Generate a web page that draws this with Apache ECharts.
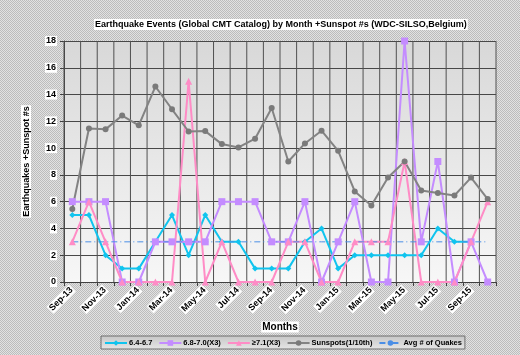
<!DOCTYPE html>
<html><head><meta charset="utf-8">
<script src="https://cdn.jsdelivr.net/npm/echarts@6/dist/echarts.min.js"></script>
<style>html,body{margin:0;padding:0;background:#d2d2d2;} #c{width:520px;height:355px;}</style>
</head><body><div id="c"></div>
<script>
const months = ['Sep-13','Oct-13','Nov-13','Dec-13','Jan-14','Feb-14','Mar-14','Apr-14','May-14','Jun-14','Jul-14','Aug-14','Sep-14','Oct-14','Nov-14','Dec-14','Jan-15','Feb-15','Mar-15','Apr-15','May-15','Jun-15','Jul-15','Aug-15','Sep-15','Oct-15'];
const mag64_67 = [5,5,2,1,1,3,5,2,5,3,3,1,1,1,3,4,1,2,2,2,2,2,4,3,3,null];
const mag68_70x3 = [6,6,6,0,0,3,3,3,3,6,6,6,3,3,6,0,3,6,0,0,18,3,9,0,3,0];
const mag71x3 = [3,6,3,0,0,0,0,15,0,3,0,0,0,3,3,0,0,3,3,3,9,0,0,0,3,6];
const sunspots = [5.45,11.46,11.4,12.43,11.7,14.6,12.9,11.24,11.27,10.3,10.05,10.7,13.0,9.0,10.35,11.3,9.8,6.76,5.72,7.8,9.0,6.84,6.64,6.46,7.8,6.19];
const avgQuakes = [3,3,3,3,3,3,3,3,3,3,3,3,3,3,3,3,3,3,3,3,3,3,3,3,3,3];
const yTicks = [0,2,4,6,8,10,12,14,16,18];

const pc = document.createElement('canvas'); pc.width=2; pc.height=2;
const px = pc.getContext('2d');
px.fillStyle='#e2e2e2'; px.fillRect(0,0,2,2);
px.fillStyle='#bcbcbc'; px.fillRect(0,0,1,1); px.fillRect(1,1,1,1);

const chart = echarts.init(document.getElementById('c'), null, {renderer:'canvas'});
const F = 'Liberation Sans, Arial, sans-serif';
const lbl = {fontFamily:F, fontWeight:'bold', fontSize:9, color:'#000', backgroundColor:'#fff', padding:[1,1,0,1]};
const yMin = yTicks[0], yMax = yTicks[yTicks.length-1];

// vertical gridlines at category boundaries, placed through the axis scales
function gridRenderItem(params, api){
  const i = api.value(0);
  const w = api.size([1,0])[0];
  const b = api.coord([i, yMin]);
  const t = api.coord([i, yMax]);
  const st = {stroke:'#505050', lineWidth:1};
  const children = [{type:'line', shape:{x1:b[0]-w/2, y1:b[1], x2:t[0]-w/2, y2:t[1]}, style:st}];
  if (i === months.length-1) children.push({type:'line', shape:{x1:b[0]+w/2, y1:b[1], x2:t[0]+w/2, y2:t[1]}, style:st});
  return {type:'group', children};
}

chart.setOption({
  backgroundColor: {image: pc, repeat:'repeat'},
  animation:false,
  title:{text:'Earthquake Events (Global CMT Catalog) by Month +Sunspot #s (WDC-SILSO,Belgium)', left:94, top:19,
    backgroundColor:'#fff', padding:[1,1,1,1],
    textStyle:{fontFamily:F, fontWeight:'bold', fontSize:9, color:'#000'}},
  grid:{left:64, right:24, top:41, bottom:73, show:true, borderWidth:0,
    backgroundColor: new echarts.graphic.LinearGradient(0,0,0,1,[{offset:0,color:'#d8d8d8'},{offset:1,color:'#f7f7f7'}]),
    outerBoundsMode:'none'},
  legend:{left:101, top:336, padding:[3,3,2,3], itemGap:6, itemWidth:22, itemHeight:7,
    backgroundColor: new echarts.graphic.LinearGradient(0,0,0,1,[{offset:0,color:'#c6c6c6'},{offset:1,color:'#e6e6e6'}]),
    borderColor:'#6e6e6e', borderWidth:1,
    textStyle:{fontFamily:F, fontWeight:'bold', fontSize:7.5, color:'#000', padding:[0,0,0,-3]},
    data:['6.4-6.7','6.8-7.0(X3)','≥7.1(X3)','Sunspots(1/10th)','Avg # of Quakes']},
  xAxis:{
    type:'category', data:months, boundaryGap:true,
    name:'Months', nameLocation:'middle', nameGap:34,
    nameTextStyle:{fontFamily:F, fontWeight:'bold', fontSize:10, color:'#000', backgroundColor:'#fff', padding:[1,1,0,1]},
    axisLine:{lineStyle:{color:'#404040', width:1}},
    axisTick:{show:true, interval:0, length:4, lineStyle:{color:'#404040'}},
    axisLabel:Object.assign({interval:1, rotate:45, margin:6}, lbl),
    splitLine:{show:false}
  },
  yAxis:{type:'value', min:yMin, max:yMax, interval:2,
    name:'Earthquakes +Sunspot #s', nameLocation:'middle', nameGap:33, nameRotate:90,
    nameTextStyle:{fontFamily:F, fontWeight:'bold', fontSize:9, color:'#000', backgroundColor:'#fff', padding:[1,1,0,1]},
    axisLine:{show:true, lineStyle:{color:'#404040'}},
    axisTick:{show:true, length:4, lineStyle:{color:'#404040'}},
    axisLabel:Object.assign({margin:7}, lbl),
    splitLine:{show:true, lineStyle:{color:'#484848', width:1}}
  },
  series:[
    {name:'gridlines', type:'custom', silent:true, z:1, renderItem:gridRenderItem,
      data:months.map((m,i)=>[i, yMin]), encode:{x:0, y:1}, tooltip:{show:false}},
    {name:'6.4-6.7', type:'line', z:5, data:mag64_67, symbol:'diamond', symbolSize:6,
      lineStyle:{color:'#10c4ee', width:2}, itemStyle:{color:'#10c4ee'}},
    {name:'6.8-7.0(X3)', type:'line', z:5, data:mag68_70x3, symbol:'rect', symbolSize:7,
      lineStyle:{color:'#c48cff', width:2}, itemStyle:{color:'#c48cff'}},
    {name:'≥7.1(X3)', type:'line', z:5, data:mag71x3, symbol:'triangle', symbolSize:7,
      lineStyle:{color:'#ff8cc6', width:2}, itemStyle:{color:'#ff8cc6'}},
    {name:'Sunspots(1/10th)', type:'line', z:5, data:sunspots, symbol:'circle', symbolSize:6,
      lineStyle:{color:'#838383', width:2}, itemStyle:{color:'#7a7a7a'}},
    {name:'Avg # of Quakes', type:'line', z:5, data:avgQuakes, symbol:'none',
      lineStyle:{color:'#4a8ee6', width:1, type:[6,3,1,3]}, itemStyle:{color:'#4a8ee6'}}
  ]
});
</script></body></html>
